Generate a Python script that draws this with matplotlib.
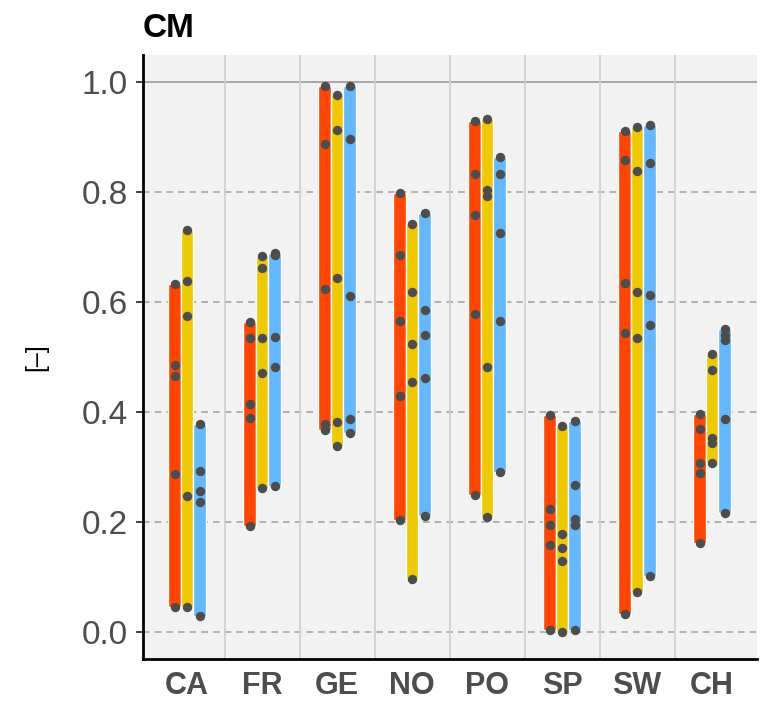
import numpy as np
import matplotlib
matplotlib.use("Agg")
import matplotlib.pyplot as plt

plt.rcParams['font.family'] = ['Liberation Sans', 'DejaVu Sans']

# countries on the x axis
countries = ["CA", "FR", "GE", "NO", "PO", "SP", "SW", "CH"]

# values, one list per country and series
red_vals = [
    [0.632, 0.485, 0.466, 0.287, 0.045],
    [0.563, 0.535, 0.414, 0.390, 0.193],
    [0.992, 0.888, 0.623, 0.378, 0.367],
    [0.799, 0.686, 0.565, 0.429, 0.203],
    [0.929, 0.833, 0.759, 0.578, 0.249],
    [0.395, 0.223, 0.195, 0.159, 0.004],
    [0.911, 0.859, 0.634, 0.544, 0.032],
    [0.396, 0.369, 0.307, 0.289, 0.162],
]
yellow_vals = [
    [0.731, 0.639, 0.574, 0.248, 0.045],
    [0.683, 0.661, 0.535, 0.471, 0.261],
    [0.977, 0.912, 0.643, 0.382, 0.338],
    [0.741, 0.619, 0.524, 0.455, 0.096],
    [0.933, 0.804, 0.792, 0.481, 0.210],
    [0.375, 0.178, 0.152, 0.129, 0.000],
    [0.919, 0.839, 0.619, 0.534, 0.072],
    [0.505, 0.477, 0.352, 0.343, 0.307],
]
blue_vals = [
    [0.378, 0.293, 0.257, 0.237, 0.029],
    [0.689, 0.686, 0.537, 0.482, 0.266],
    [0.992, 0.896, 0.611, 0.387, 0.362],
    [0.761, 0.585, 0.540, 0.462, 0.211],
    [0.864, 0.832, 0.725, 0.566, 0.291],
    [0.384, 0.267, 0.206, 0.194, 0.003],
    [0.921, 0.853, 0.613, 0.558, 0.102],
    [0.550, 0.540, 0.531, 0.387, 0.216],
]

series = [red_vals, yellow_vals, blue_vals]
colors = ["#FF4500", "#EEC900", "#63B8FF"]
offsets = [-1/6, 0, 1/6]
bar_w = 1/6

fig = plt.figure(figsize=(7.61, 7.08), dpi=100)
ax = fig.add_axes([143/761, 49/708, 614/761, 604/708])
ax.set_facecolor("#F2F2F2")

x = np.arange(1, len(countries) + 1)

# grid: dashed horizontals, solid separators between countries
for yv in [0.0, 0.2, 0.4, 0.6, 0.8]:
    ax.axhline(yv, color="#A6A6A6", lw=1.2, ls=(0, (4, 3)), zorder=1)
ax.axhline(1.0, color="#A6A6A6", lw=1.4, zorder=1)
for xs in x[:-1] + 0.5:
    ax.axvline(xs, color="#CFCFCF", lw=1.2, zorder=1)

for vals, col, off in zip(series, colors, offsets):
    lo = [min(v) for v in vals]
    hi = [max(v) for v in vals]
    ax.bar(x + off, np.array(hi) - np.array(lo), bottom=lo, width=bar_w,
           color=col, edgecolor="white", linewidth=1, zorder=2)
    for xi, v in zip(x, vals):
        ax.scatter(np.full(len(v), xi + off), v, s=46, color="#4D4D4D",
                   zorder=3, linewidths=0)

ax.set_xlim(0.413, 8.6)
ax.set_ylim(-0.049, 1.049)
ax.set_xticks(x)
ax.set_xticklabels(countries, fontsize=22, fontweight="bold", color="#4D4D4D")
ax.set_yticks([0.0, 0.2, 0.4, 0.6, 0.8, 1.0])
ax.set_yticklabels(["0.0", "0.2", "0.4", "0.6", "0.8", "1.0"], fontsize=24,
                   color="#4D4D4D")
ax.tick_params(axis="y", length=5, width=1.3, color="#333333", pad=6)
ax.tick_params(axis="x", length=0, pad=9)

for s in ["top", "right"]:
    ax.spines[s].set_visible(False)
for s in ["left", "bottom"]:
    ax.spines[s].set_linewidth(2)
    ax.spines[s].set_color("black")

fig.text(36/761, 1 - 357/708, "[–]", fontsize=18, rotation=90,
         ha="center", va="center")
fig.text(143/761, 1 - 37/708, "CM", fontsize=24, fontweight="bold",
         va="baseline", ha="left")

fig.savefig("out.png", dpi=100)
